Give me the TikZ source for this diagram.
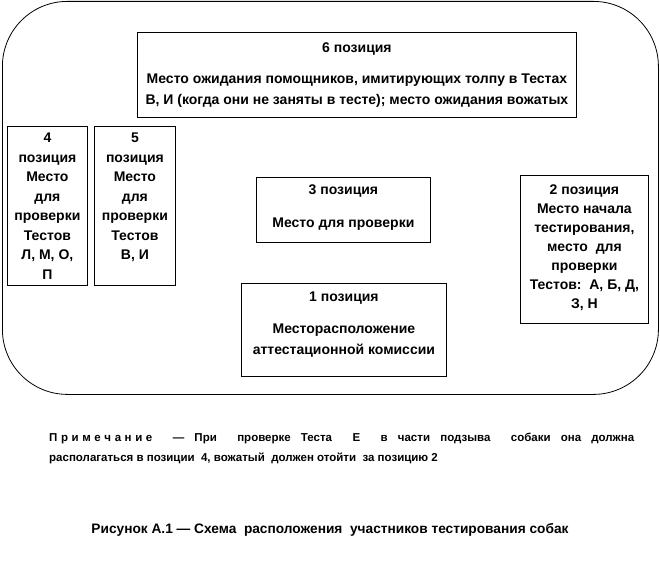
\documentclass[tikz,border=0pt]{standalone}
\usepackage{fontspec}
\setmainfont{Liberation Sans}
\newcommand{\lsp}[1]{#1\kern3.6pt}
\begin{document}
\begin{tikzpicture}[x=1pt,y=-1pt,
  box/.style={draw, line width=0.8pt, anchor=north west, inner sep=0pt},
  txt/.style={font=\fontsize{14}{21}\selectfont\bfseries, align=center, anchor=north, inner sep=0pt},
  narrow/.style={font=\fontsize{14}{19.5}\selectfont\bfseries, align=center, anchor=north, inner sep=0pt},
  note/.style={font=\fontsize{11.5}{20}\selectfont\bfseries, align=left, anchor=north west, inner sep=0pt}]
\useasboundingbox (0,0) rectangle (660,577);
\node[draw, line width=0.8pt, rounded corners=65pt, anchor=north west, inner sep=0pt,
      minimum width=656pt, minimum height=393pt] (field) at (2,1) {};
% boxes
\node[box, minimum width=439pt, minimum height=85pt] (b6) at (137,32) {};
\node[box, minimum width=80pt, minimum height=159pt] (b4) at (7,126) {};
\node[box, minimum width=81pt, minimum height=159pt] (b5) at (94,126) {};
\node[box, minimum width=174pt, minimum height=65pt] (b3) at (256,177) {};
\node[box, minimum width=205pt, minimum height=93pt] (b1) at (241,283) {};
\node[box, minimum width=128pt, minimum height=148pt] (b2) at (520,175) {};
% texts
\node[txt] (t6) at ([yshift=-11pt]b6.north) {6 позиция\\[10pt]Место ожидания помощников, имитирующих толпу в Тестах\\В, И (когда они не заняты в тесте); место ожидания вожатых};
\node[narrow] (t4) at ([yshift=-7pt]b4.north) {4\\позиция\\Место\\для\\проверки\\Тестов\\Л, М, О,\\П};
\node[narrow] (t5) at ([yshift=-7pt]b5.north) {5\\позиция\\Место\\для\\проверки\\Тестов\\В, И};
\node[txt] (t3) at ([yshift=-8pt]b3.north) {3 позиция\\[12pt]Место для проверки};
\node[txt] (t1) at ([yshift=-9pt]b1.north) {1 позиция\\[11pt]Месторасположение\\аттестационной комиссии};
\node[narrow, font=\fontsize{14}{19}\selectfont\bfseries] (t2) at ([yshift=-10pt]b2.north) {2 позиция\\Место начала\\тестирования,\\место\ \ для\\проверки\\Тестов:\ \ А, Б, Д,\\З, Н};
% note and caption
\node[note] (nt) at (49,433) {\makebox[585pt][s]{\lsp{П}\lsp{р}\lsp{и}\lsp{м}\lsp{е}\lsp{ч}\lsp{а}\lsp{н}\lsp{и}е \ — При \ проверке Теста \ Е \ в части подзыва \ собаки она должна}\\располагаться в позиции \ 4, вожатый \ должен отойти \ за позицию 2};
\node[font=\fontsize{13.7}{16}\selectfont\bfseries, inner sep=0pt] (cap) at (330,530) {Рисунок А.1 — Схема \ расположения \ участников тестирования собак};
\end{tikzpicture}
\end{document}
